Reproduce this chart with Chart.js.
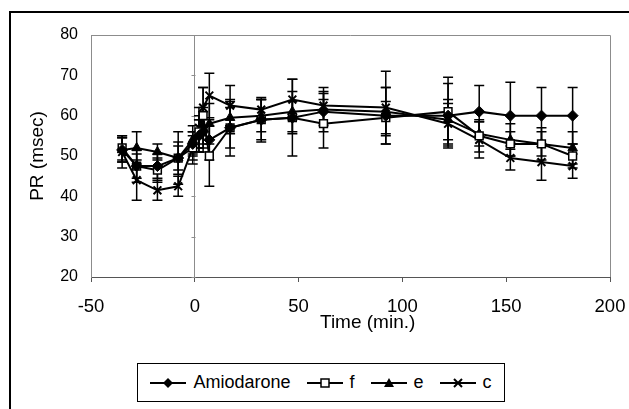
<!DOCTYPE html>
<html>
<head>
<meta charset="utf-8">
<script src="https://cdn.jsdelivr.net/npm/chart.js@4.4.1/dist/chart.umd.min.js"></script>
<style>
  html, body { margin: 0; padding: 0; background: #fff; }
  #wrap { position: relative; width: 629px; height: 409px; overflow: hidden; background: #fff; }
  #frame { position: absolute; left: 9px; top: 11px; width: 700px; height: 500px;
           border-top: 2px solid #000; border-left: 2px solid #000; }
  #chart { position: absolute; left: 0; top: 0; }
  #xtitle { position: absolute; left: 320px; top: 311px; font: 19px/22px "Liberation Sans", Arial, sans-serif;
            color: #000; white-space: nowrap; }
  #legend { position: absolute; left: 137px; top: 363px; width: 368px; height: 39px; box-sizing: border-box;
            border: 1px solid #000; background: #fff; display: flex; align-items: center; justify-content: center;
            font: 18px "Liberation Sans", Arial, sans-serif; color: #000; }
  .item { display: flex; align-items: center; margin: 0 8px; }
  .item canvas { margin-right: 7px; }
</style>
</head>
<body>
<div id="wrap">
  <div id="frame"></div>
  <canvas id="chart" width="629" height="409"></canvas>
  <div id="xtitle">Time (min.)</div>
  <div id="legend"></div>
</div>
<script>
const times = [-35, -28, -18, -8, -1, 2, 4, 7, 17, 32, 47, 62, 92, 122, 137, 152, 167, 182];

const seriesNames = ['Amiodarone', 'f', 'e', 'c'];

const amioPR  = [51.5, 47.5, 47.5, 49.5, 53, 55, 56, 54, 57, 59, 59.5, 61, 60, 60, 61, 60, 60, 60];
const amioErr = [3, 4, 3, 4, 3, 4, 5, 5, 7, 5, 9.5, 5, 7, 8, 6.5, 8.3, 7, 7];
const fPR     = [52, 47.5, 46.5, 49.5, 52, 56, 60, 50, 57, 59, 59.5, 58, 59.5, 61, 55, 53, 53, 50];
const fErr    = [3, 3, 3, 6.5, 3, 4, 7, 7.5, 5, 5.5, 4, 6, 4, 8.5, 4, 3, 3, 3];
const ePR     = [51.5, 52, 51, 49.5, 54, 55, 57, 58, 59.5, 60, 61, 61.5, 61, 59, 55.5, 54, 53, 52];
const eErr    = [3, 4, 2, 3, 3.5, 4, 5, 5, 4, 4, 5, 4, 6, 5, 3, 4, 4, 4];
const cPR     = [51, 44, 41.5, 42.5, 52, 57, 62, 65, 62.5, 61.5, 64, 62.5, 62, 58, 54, 49.5, 48.5, 47.5];
const cErr    = [4, 5, 2.5, 2.5, 4, 5, 5, 5.5, 5, 2.5, 5, 4.5, 9, 5, 4.5, 3, 4.5, 3];

const xTicksStep = 50;
const yTicksStep = 10;

const FONT = '"Liberation Sans", Arial, sans-serif';
Chart.defaults.font.family = FONT;
Chart.defaults.color = '#000';

const markers = [
  { pointStyle: 'rectRot', radius: 5.5, bg: '#000', bw: 1 },
  { pointStyle: 'rect', radius: 5.5, bg: '#fff', bw: 1.5 },
  { pointStyle: 'triangle', radius: 5.5, bg: '#000', bw: 1 },
  { pointStyle: 'crossRot', radius: 5.5, bg: '#000', bw: 2 },
];

const toPoints = vals => times.map((t, i) => ({ x: t, y: vals[i] }));
const allVals = [amioPR, fPR, ePR, cPR];
const allErrs = [amioErr, fErr, eErr, cErr];

const datasets = seriesNames.map((name, i) => ({
  label: name,
  data: toPoints(allVals[i]),
  errors: allErrs[i],
  borderColor: '#000',
  borderWidth: 2,
  pointStyle: markers[i].pointStyle,
  pointRadius: markers[i].radius,
  pointBackgroundColor: markers[i].bg,
  pointBorderColor: '#000',
  pointBorderWidth: markers[i].bw,
  fill: false,
  tension: 0,
}));

// error bars go under the lines and markers
const errorBars = {
  id: 'errorBars',
  beforeDatasetsDraw(chart) {
    const { ctx, scales: { x, y } } = chart;
    ctx.save();
    ctx.strokeStyle = '#000';
    ctx.lineWidth = 1.5;
    chart.data.datasets.forEach(ds => {
      ds.data.forEach((p, j) => {
        const e = ds.errors[j];
        const px = x.getPixelForValue(p.x);
        const top = y.getPixelForValue(p.y + e);
        const bot = y.getPixelForValue(p.y - e);
        ctx.beginPath();
        ctx.moveTo(px, top); ctx.lineTo(px, bot);
        ctx.moveTo(px - 5, top); ctx.lineTo(px + 5, top);
        ctx.moveTo(px - 5, bot); ctx.lineTo(px + 5, bot);
        ctx.stroke();
      });
    });
    ctx.restore();
  }
};

// grey plot border (top/right) and the small ticks on the x=0 line
const plotFrame = {
  id: 'plotFrame',
  beforeDatasetsDraw(chart) {
    const { ctx, chartArea: a, scales: { x, y } } = chart;
    ctx.save();
    ctx.strokeStyle = '#8c8c8c';
    ctx.lineWidth = 1;
    ctx.beginPath();
    ctx.moveTo(a.left, a.top + 0.5);
    ctx.lineTo(a.right + 0.5, a.top + 0.5);
    ctx.lineTo(a.right + 0.5, a.bottom);
    ctx.stroke();
    const x0 = Math.round(x.getPixelForValue(0)) + 0.5;
    ctx.beginPath();
    y.ticks.forEach(t => {
      const py = Math.round(y.getPixelForValue(t.value)) + 0.5;
      ctx.moveTo(x0 - 4, py);
      ctx.lineTo(x0, py);
    });
    ctx.stroke();
    ctx.restore();
  }
};

new Chart(document.getElementById('chart'), {
  type: 'line',
  data: { datasets },
  plugins: [plotFrame, errorBars],
  options: {
    responsive: false,
    animation: false,
    layout: { padding: { left: 0, top: 35, right: 19, bottom: 77 } },
    plugins: { legend: { display: false }, tooltip: { enabled: false } },
    scales: {
      x: {
        type: 'linear', min: -50, max: 200,
        ticks: { stepSize: xTicksStep, font: { size: 18.5 }, padding: 14, maxRotation: 0 },
        grid: {
          color: c => (c.tick && c.tick.value === 0) ? '#8c8c8c' : 'rgba(0,0,0,0)',
          tickColor: '#555', tickLength: 5, lineWidth: 1
        },
        border: { color: '#555', width: 1 },
        title: { display: false },
        afterFit: s => { s.height = 55; s.paddingLeft = 0; s.paddingRight = 0; }
      },
      y: {
        min: 20, max: 80,
        ticks: { stepSize: yTicksStep, font: { size: 16 }, padding: 13 },
        grid: { display: false, drawTicks: false },
        border: { color: '#8c8c8c', width: 1 },
        title: { display: true, text: 'PR (msec)', font: { size: 19 }, padding: { top: 26, bottom: 0 } },
        afterFit: s => { s.width = 91; }
      }
    }
  }
});

// legend: small line+marker icons next to each name
function makeIcon(i) {
  const c = document.createElement('canvas');
  c.width = 36; c.height = 14;
  const g = c.getContext('2d');
  g.strokeStyle = '#000'; g.fillStyle = '#000'; g.lineWidth = 2;
  g.beginPath(); g.moveTo(0, 7); g.lineTo(36, 7); g.stroke();
  const cx = 18, cy = 7;
  g.beginPath();
  if (i === 0) {
    g.moveTo(cx, cy - 5); g.lineTo(cx + 5, cy); g.lineTo(cx, cy + 5); g.lineTo(cx - 5, cy); g.closePath(); g.fill();
  } else if (i === 1) {
    g.fillStyle = '#fff'; g.lineWidth = 1.5;
    g.rect(cx - 4, cy - 4, 8, 8); g.fill(); g.stroke();
  } else if (i === 2) {
    g.moveTo(cx, cy - 5); g.lineTo(cx + 5, cy + 4); g.lineTo(cx - 5, cy + 4); g.closePath(); g.fill();
  } else {
    g.moveTo(cx - 4, cy - 4); g.lineTo(cx + 4, cy + 4);
    g.moveTo(cx + 4, cy - 4); g.lineTo(cx - 4, cy + 4); g.stroke();
  }
  return c;
}

const legend = document.getElementById('legend');
seriesNames.forEach((name, i) => {
  const item = document.createElement('div');
  item.className = 'item';
  item.appendChild(makeIcon(i));
  const span = document.createElement('span');
  span.textContent = name;
  item.appendChild(span);
  legend.appendChild(item);
});
</script>
</body>
</html>
